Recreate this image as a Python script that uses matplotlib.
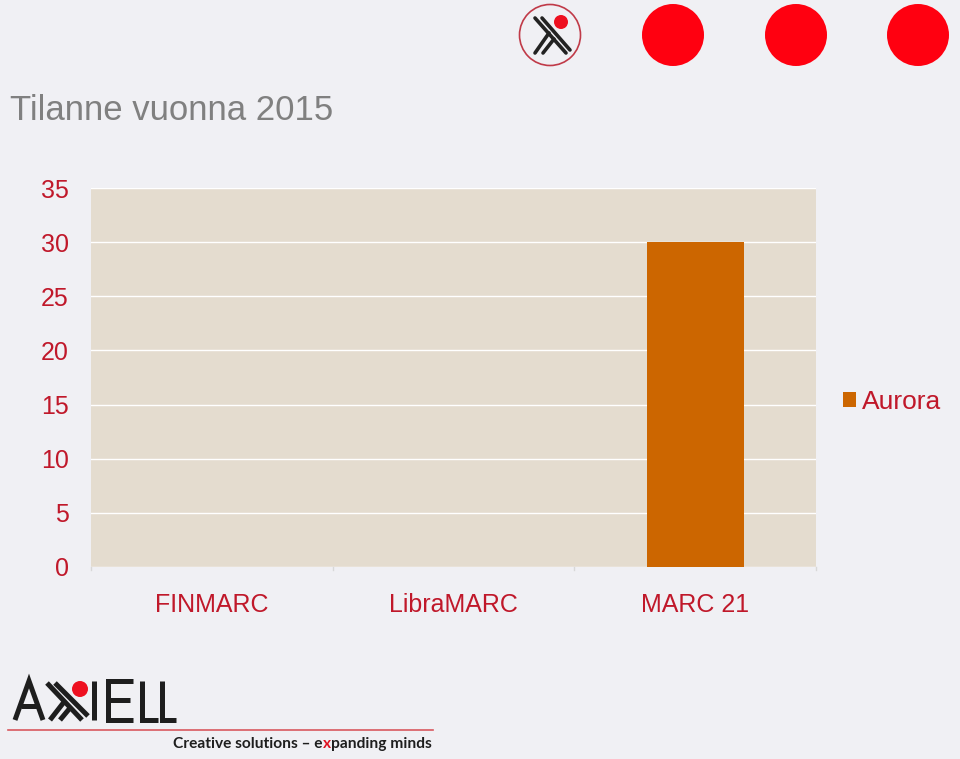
import matplotlib
matplotlib.use("Agg")
import matplotlib.pyplot as plt
from matplotlib.patches import Circle, Rectangle
from matplotlib.lines import Line2D

categories = ["FINMARC", "LibraMARC", "MARC 21"]
aurora = [0, 0, 30]
yticks = [0, 5, 10, 15, 20, 25, 30, 35]
series_name = "Aurora"
title = "Tilanne vuonna 2015"
tagline_parts = ["Creative solutions \u2013 e", "x", "panding minds"]

BG = "#f0f0f4"
RED_TXT = "#c0182a"
BAR = "#cc6600"
PLOT_BG = "#e4dccf"

W, H = 960, 759
fig = plt.figure(figsize=(W / 100, H / 100), dpi=100, facecolor=BG)
plt.rcParams["font.family"] = ["Liberation Sans", "DejaVu Sans"]

# decoration layer in pixel coordinates
deco = fig.add_axes([0, 0, 1, 1], zorder=0)
deco.set_xlim(0, W)
deco.set_ylim(H, 0)
deco.axis("off")

# top circles
for cx in [673, 796, 918]:
    deco.add_patch(Circle((cx, 35), 31, color="#ff0010", lw=0))
deco.add_patch(Circle((550, 35), 30.5, facecolor="none", edgecolor="#c03a48", lw=1.2))
deco.add_patch(Circle((561, 22), 7, color="#ee1020", lw=0))
for (x0, y0, x1, y1) in [(535, 18, 566, 53), (542, 18, 570, 50),
                         (549, 33, 535, 53), (554, 39, 543, 53)]:
    deco.add_line(Line2D([x0, x1], [y0, y1], color="#222222", lw=2.6, solid_capstyle="round"))

# bottom AXIELL logo
dark = "#1e1e1e"
lw = 3.6
segs = [
    # A
    [(15, 720), (29, 681), (43, 720)], [(21, 706), (37, 706)],
    # X glyph
    [(47, 683), (82, 720)], [(55, 683), (88, 716)],
    [(64, 702), (50, 720)], [(70, 708), (60, 720)],
    # I
    [(94, 681), (94, 720)],
    # E
    [(133, 681), (108, 681), (108, 720), (133, 720)], [(108, 700), (130, 700)],
    # L
    [(142, 681), (142, 720), (158, 720)],
    # L
    [(162, 681), (162, 720), (176, 720)],
]
for s in segs:
    xs, ys = zip(*s)
    deco.add_line(Line2D(xs, ys, color=dark, lw=lw, solid_capstyle="butt", solid_joinstyle="miter"))
deco.add_patch(Circle((80, 689), 8, color="#ee1020", lw=0))
deco.add_line(Line2D([8, 433], [730, 730], color="#d9585f", lw=1.2))

# tagline, pieced together
renderer = fig.canvas.get_renderer()
x = 173
colors = [dark, "#e01020", dark]
for part, c in zip(tagline_parts, colors):
    t = deco.text(x, 744, part, fontsize=11.2, fontweight="bold", color=c,
                  family=["Lato", "DejaVu Sans"], va="center", ha="left")
    bb = t.get_window_extent(renderer=renderer)
    x = x + bb.width

# title
fig.text(10 / W, 1 - 110 / H, title, fontsize=25, color="#808080", va="center", ha="left")

# chart
ax = fig.add_axes([91 / W, 1 - 567 / H, (816 - 91) / W, (567 - 188) / H], zorder=1)
ax.set_facecolor(PLOT_BG)
xs = list(range(len(categories)))
ax.bar(xs, aurora, width=0.4, color=BAR, label=series_name, zorder=3)
ax.set_xlim(-0.5, len(categories) - 0.5)
ax.set_ylim(0, 35)
ax.set_yticks(yticks)
ax.set_yticklabels([str(v) for v in yticks])
ax.yaxis.grid(True, color="white", lw=1.0, zorder=1)
ax.set_axisbelow(True)
for sp in ax.spines.values():
    sp.set_visible(False)
ax.tick_params(axis="y", length=0, pad=16, labelsize=18, labelcolor=RED_TXT)
ax.set_xticks(xs)
ax.set_xticklabels(categories)
ax.tick_params(axis="x", length=0, pad=19, labelsize=18, labelcolor=RED_TXT)
# category separators below axis
for b in [-0.5, 0.5, 1.5, 2.5]:
    ax.plot([b, b], [0, -0.25], color="#d8d8d8", lw=1, clip_on=False, zorder=2)

leg = ax.legend(loc="center left", bbox_to_anchor=(843 / W, 1 - 402 / H),
                bbox_transform=fig.transFigure, frameon=False, fontsize=19,
                handlelength=0.5, handleheight=0.5, handletextpad=0.2,
                borderpad=0, borderaxespad=0)
for t in leg.get_texts():
    t.set_color(RED_TXT)

fig.savefig("out.png", dpi=100, facecolor=BG)
